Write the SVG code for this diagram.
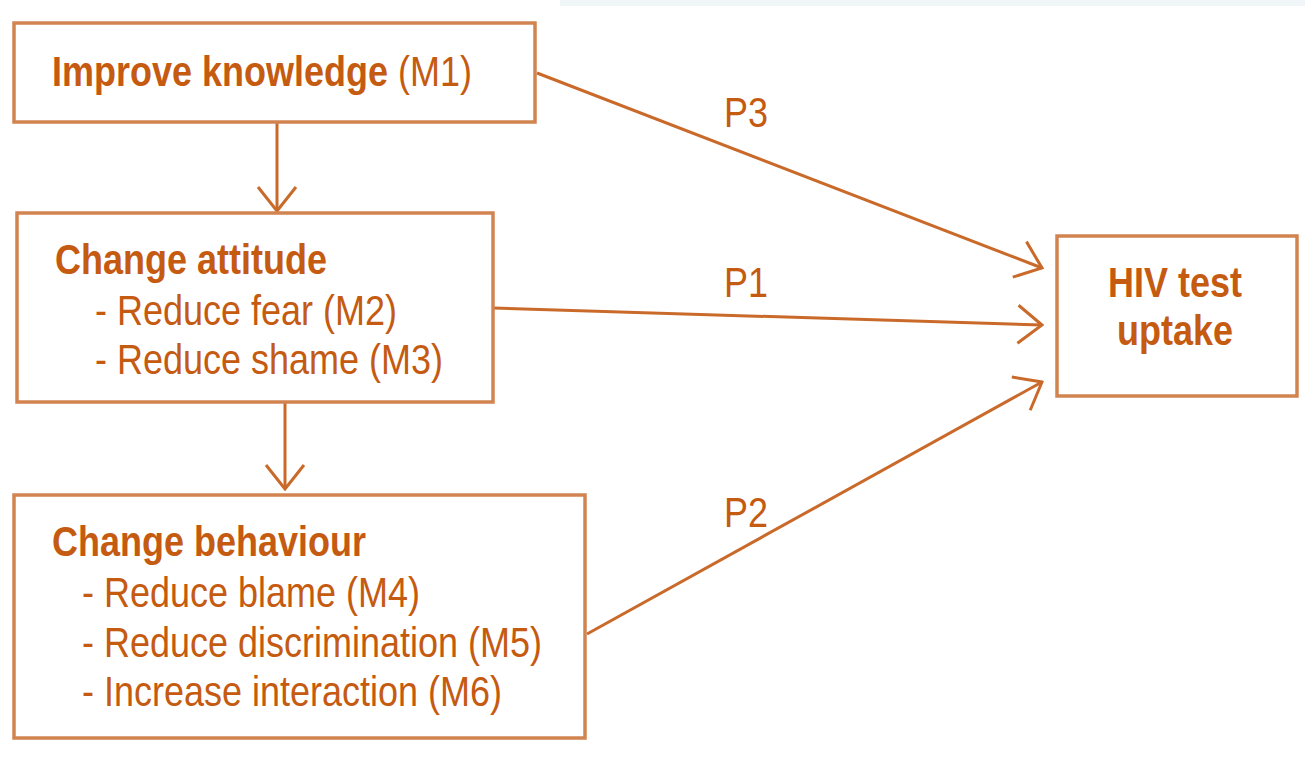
<svg xmlns="http://www.w3.org/2000/svg" width="1305" height="758" viewBox="0 0 1305 758">
  <style>
    .box { fill: #ffffff; stroke: #D28450; stroke-width: 3.5; }
    .lbl { font-family: "Liberation Sans", Arial, sans-serif; font-size: 36px; fill: #C55A11; }
    .b { font-weight: bold; }
    .edge { fill: none; stroke: #C96A2A; stroke-width: 3; }
  </style>
  <defs>
    <!-- open chevron arrowhead -->
    <marker id="chev" markerUnits="userSpaceOnUse" viewBox="0 0 28 42" refX="26" refY="21" markerWidth="28" markerHeight="42" orient="auto">
      <path d="M2,2 L26,21 L2,40" fill="none" stroke="#C96A2A" stroke-width="3"/>
    </marker>
  </defs>

  <!-- faint header strip -->
  <rect x="560" y="0" width="745" height="6" fill="#F0F6F7"/>

  <g id="connectors">
    <line class="edge" x1="277" y1="122" x2="277" y2="211" marker-end="url(#chev)"/>
    <line class="edge" x1="285" y1="402" x2="285" y2="489" marker-end="url(#chev)"/>
    <line class="edge" x1="537" y1="73" x2="1042" y2="268" marker-end="url(#chev)"/>
    <line class="edge" x1="493" y1="308" x2="1042" y2="325" marker-end="url(#chev)"/>
    <line class="edge" x1="587" y1="634" x2="1042" y2="382" marker-end="url(#chev)"/>
    <text class="lbl" transform="translate(724,127) scale(1,1.2)">P3</text>
    <text class="lbl" transform="translate(724,297) scale(1,1.2)">P1</text>
    <text class="lbl" transform="translate(724,527) scale(1,1.2)">P2</text>
  </g>

  <g id="knowledge">
    <rect class="box" x="14" y="23" width="521" height="99"/>
    <text class="lbl" transform="translate(52,86) scale(1,1.2)"><tspan class="b">Improve knowledge</tspan> (M1)</text>
  </g>

  <g id="attitude">
    <rect class="box" x="17" y="213" width="476" height="189"/>
    <text class="lbl b" transform="translate(55,274) scale(1,1.2)">Change attitude</text>
    <text class="lbl" transform="translate(95,325) scale(1,1.2)">- Reduce fear (M2)</text>
    <text class="lbl" transform="translate(95,374) scale(1,1.2)">- Reduce shame (M3)</text>
  </g>

  <g id="behaviour">
    <rect class="box" x="14" y="495" width="571" height="243"/>
    <text class="lbl b" transform="translate(52,556) scale(1,1.2)">Change behaviour</text>
    <text class="lbl" transform="translate(82,607) scale(1,1.2)">- Reduce blame (M4)</text>
    <text class="lbl" transform="translate(82,657) scale(1,1.2)">- Reduce discrimination (M5)</text>
    <text class="lbl" transform="translate(82,706) scale(1,1.2)">- Increase interaction (M6)</text>
  </g>

  <g id="uptake">
    <rect class="box" x="1057" y="236" width="240" height="160"/>
    <text class="lbl b" text-anchor="middle" transform="translate(1175,297) scale(1,1.2)">HIV test</text>
    <text class="lbl b" text-anchor="middle" transform="translate(1175,345) scale(1,1.2)">uptake</text>
  </g>
</svg>
